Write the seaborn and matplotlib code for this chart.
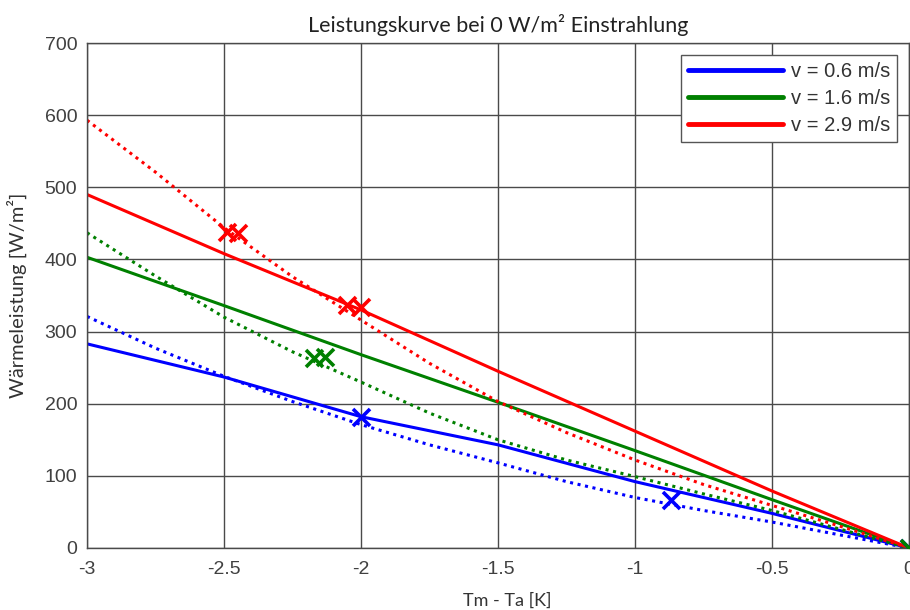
import matplotlib
matplotlib.use("Agg")
import matplotlib.pyplot as plt
import numpy as np
import pandas as pd
import seaborn as sns

# ── Daten ──────────────────────────────────────────────────────────────────
X_LINE = [-3.0, -2.5, -2.0, -1.5, -1.0, -0.5, 0.0]
BLUE_LINE  = [283, 237, 182, 143, 92, 48, 0]
GREEN_LINE = [403, 336, 268, 202, 135, 67, 0]
RED_LINE   = [490, 408, 330, 245, 162, 79, 0]

X_CURVE = [-3.0, -2.75, -2.5, -2.25, -2.0, -1.75, -1.5, -1.25, -1.0, -0.75, -0.5, -0.25, 0.0]
BLUE_CURVE  = [321, 277, 238, 203, 171, 143, 118, 92, 70, 52, 36, 18, 0]
GREEN_CURVE = [437, 377, 320, 272, 230, 187, 150, 122, 99, 75, 52, 26, 0]
RED_CURVE   = [593, 521, 444, 376, 316, 256, 203, 160, 122, 88, 59, 30, 0]

BLUE_PTS_X  = [-2.00, -0.87, 0.0]
BLUE_PTS_Y  = [182, 66, 0]
GREEN_PTS_X = [-2.17, -2.13, 0.0]
GREEN_PTS_Y = [263, 265, 0]
RED_PTS_X   = [-2.49, -2.45, -2.05, -2.00]
RED_PTS_Y   = [438, 436, 337, 334]

LABELS = ["v = 0.6 m/s", "v = 1.6 m/s", "v = 2.9 m/s"]
COLORS = ["#0000FF", "#008000", "#FF0000"]

X_TICKS = [-3, -2.5, -2, -1.5, -1, -0.5, 0]
X_TICKLABELS = ["-3", "-2.5", "-2", "-1.5", "-1", "-0.5", "0"]
Y_TICKS = [0, 100, 200, 300, 400, 500, 600, 700]

# ── Stil ────────────────────────────────────────────────────────────────────
sns.set_theme(style="whitegrid", rc={
    "grid.color": "#4a4a4a",
    "grid.linewidth": 1.0,
    "axes.edgecolor": "#4a4a4a",
    "axes.linewidth": 1.0,
})
plt.rcParams["font.family"] = ["Liberation Sans", "DejaVu Sans"]
LABEL_FONT = ["Lato", "DejaVu Sans"]

fig = plt.figure(figsize=(9.1, 6.1), dpi=100)
ax = fig.add_axes([87 / 910, 62 / 610, 822 / 910, 505 / 610])

lines = [BLUE_LINE, GREEN_LINE, RED_LINE]
curves = [BLUE_CURVE, GREEN_CURVE, RED_CURVE]
pts = [(BLUE_PTS_X, BLUE_PTS_Y), (GREEN_PTS_X, GREEN_PTS_Y), (RED_PTS_X, RED_PTS_Y)]

for label, color, ln, cv, (px, py) in zip(LABELS, COLORS, lines, curves, pts):
    df_l = pd.DataFrame({"x": X_LINE, "y": ln})
    df_c = pd.DataFrame({"x": X_CURVE, "y": cv})
    sns.lineplot(data=df_c, x="x", y="y", ax=ax, color=color, lw=2.2,
                 linestyle=(0, (1, 1.5)), sort=False, estimator=None, legend=False)
    sns.lineplot(data=df_l, x="x", y="y", ax=ax, color=color, lw=2.2,
                 sort=False, estimator=None, legend=False)
    sns.scatterplot(x=px, y=py, ax=ax, color=color, marker="x", s=150,
                    linewidth=2.6, legend=False, zorder=5)

ax.set_xlim(-3, 0)
ax.set_ylim(0, 700)
ax.set_xticks(X_TICKS)
ax.set_xticklabels(X_TICKLABELS)
ax.set_yticks(Y_TICKS)
ax.tick_params(labelsize=14, colors="#404040", length=0)
ax.tick_params(axis="x", pad=9)
ax.tick_params(axis="y", pad=7)

ax.set_xlabel("Tm - Ta [K]", fontsize=13, color="#333333", family=LABEL_FONT)
ax.xaxis.set_label_coords((507 - 87) / 822, -0.088)
ax.set_ylabel("Wärmeleistung [W/m²]", fontsize=14.5, color="#333333", family=LABEL_FONT)
ax.yaxis.set_label_coords(-0.073, 0.5)
ax.set_title("Leistungskurve bei 0 W/m² Einstrahlung", fontsize=15.5,
             color="#222222", family=LABEL_FONT, pad=8)

handles = [plt.Line2D([], [], color=c, lw=3.5) for c in COLORS]
leg = ax.legend(handles, LABELS, loc="upper right", fontsize=14.5,
                handlelength=4.7, handletextpad=0.4, labelspacing=0.4,
                borderaxespad=0.6, fancybox=False, framealpha=1,
                edgecolor="#555555", borderpad=0.35)
leg.get_frame().set_linewidth(1.0)
for t in leg.get_texts():
    t.set_color("#333333")

fig.savefig("out.png", dpi=100)
